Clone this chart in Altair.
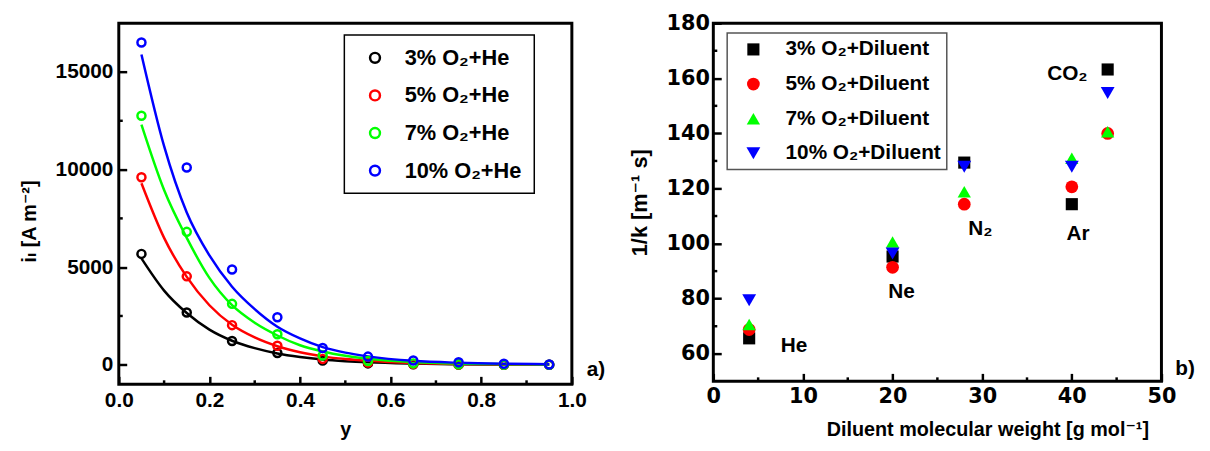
import altair as alt
import pandas as pd

# ---------------- data: panel a) ----------------
y_frac = [0.05, 0.15, 0.25, 0.35, 0.45, 0.55, 0.65, 0.75, 0.85, 0.95]
il_3 = [5680, 2680, 1220, 600, 216, 70, 25, 8, 3, 1]
il_5 = [9610, 4530, 2030, 970, 300, 110, 40, 12, 4, 1]
il_7 = [12760, 6810, 3120, 1560, 470, 190, 70, 20, 6, 2]
il_10 = [16510, 10110, 4880, 2430, 855, 418, 216, 131, 50, 10]
series_a = ["3% O₂+He", "5% O₂+He", "7% O₂+He", "10% O₂+He"]

# fitted curves
fit_x = [0.05, 0.10, 0.15, 0.20, 0.25, 0.30, 0.35, 0.40, 0.45, 0.50, 0.55, 0.65, 0.75, 0.85, 0.95]
fit_3 = [5450, 3800, 2650, 1800, 1230, 850, 580, 400, 270, 185, 125, 60, 25, 12, 5]
fit_5 = [9300, 6500, 4500, 3050, 2050, 1400, 950, 640, 430, 290, 200, 90, 40, 20, 10]
fit_7 = [12300, 8950, 6500, 4450, 3050, 2150, 1500, 1000, 680, 460, 310, 140, 60, 30, 15]
fit_10 = [15900, 11200, 7800, 5600, 4000, 2850, 1950, 1350, 900, 620, 430, 200, 100, 50, 30]

# ---------------- data: panel b) ----------------
mol_weight = [4, 20, 28, 40, 44]
inv_k_3 = [65.6, 95.3, 129.4, 114.3, 163.2]
inv_k_5 = [68.8, 91.4, 114.3, 120.6, 140.0]
inv_k_7 = [70.6, 100.6, 118.8, 131.0, 140.6]
inv_k_10 = [79.4, 96.4, 127.9, 127.9, 154.7]
series_b = ["3% O₂+Diluent", "5% O₂+Diluent", "7% O₂+Diluent", "10% O₂+Diluent"]
gases = ["He", "Ne", "N₂", "Ar", "CO₂"]
gas_label_x = [9.0, 21.0, 29.8, 40.7, 39.5]
gas_label_y = [62.9, 82.3, 105.3, 103.5, 161.7]

# ticks
major_x_a = [0.0, 0.2, 0.4, 0.6, 0.8, 1.0]
minor_x_a = [0.1, 0.3, 0.5, 0.7, 0.9]
major_y_a = [0, 5000, 10000, 15000]
minor_y_a = [2500, 7500, 12500]
major_x_b = [0, 10, 20, 30, 40, 50]
minor_x_b = [5, 15, 25, 35, 45]
major_y_b = [60, 80, 100, 120, 140, 160, 180]
minor_y_b = [70, 90, 110, 130, 150, 170]

colors = ["#000000", "#ff0000", "#00ff00", "#0000ff"]
FONT = "Liberation Sans, Arial, DejaVu Sans"
WIDE = "DejaVu Sans, Liberation Sans"

WA, HA = 458, 365
WB, HB = 453, 362

rows = []
for s, vals in zip(series_a, [il_3, il_5, il_7, il_10]):
    for x, v in zip(y_frac, vals):
        rows.append({"series": s, "xa": x, "ya": v})
df_a = pd.DataFrame(rows)

rows = []
for s, vals in zip(series_a, [fit_3, fit_5, fit_7, fit_10]):
    for x, v in zip(fit_x, vals):
        rows.append({"series": s, "xa": x, "ya": v})
df_fit = pd.DataFrame(rows)

rows = []
for s, vals in zip(series_b, [inv_k_3, inv_k_5, inv_k_7, inv_k_10]):
    for x, v in zip(mol_weight, vals):
        rows.append({"series2": s, "xb": x, "yb": v})
df_b = pd.DataFrame(rows)

df_lab = pd.DataFrame({"gas": gases, "xb": gas_label_x, "yb": gas_label_y})


def axis(values, fmt, title, lfont=FONT, lsize=21, tsize=20, **kw):
    return alt.Axis(values=values, format=fmt, title=title, domain=False, grid=False,
                    ticks=True, tickSize=8, tickWidth=2.5, tickColor="black", offset=-8,
                    labelFont=lfont, labelFontSize=lsize, labelFontWeight="bold",
                    labelColor="black", titleFont=FONT, titleFontSize=tsize,
                    titleFontWeight="bold", titleColor="black", labelFlush=False,
                    labelOverlap=False, **kw)


xs_a = alt.Scale(domain=[0, 1], nice=False, zero=False)
ys_a = alt.Scale(domain=[-1000, 17500], nice=False, zero=False)
cs_a = alt.Scale(domain=series_a, range=colors)
ax_xa = axis(major_x_a, ".1f", "y", titlePadding=10, labelPadding=5)
ax_ya = axis(major_y_a, "d", "iₗ [A m⁻²]", titlePadding=16, titleY=200, labelPadding=6)
leg_a = alt.Legend(
    title=None, orient="none", legendX=228, legendY=12, strokeColor="black",
    padding=12, symbolOffset=8, rowPadding=16, symbolSize=100, symbolStrokeWidth=2.5,
    symbolType="circle", labelFont=FONT, labelFontSize=22, labelFontWeight="bold",
    labelColor="black", labelOffset=19, labelLimit=400)

lines = alt.Chart(df_fit).mark_line(strokeWidth=2.5, interpolate="monotone").encode(
    x=alt.X("xa:Q", scale=xs_a, axis=ax_xa),
    y=alt.Y("ya:Q", scale=ys_a, axis=ax_ya),
    color=alt.Color("series:N", scale=cs_a, legend=leg_a),
    order=alt.Order("xa:Q"),
)
pts = alt.Chart(df_a).mark_point(filled=False, size=66, strokeWidth=2.5, opacity=1).encode(
    x=alt.X("xa:Q", scale=xs_a, axis=ax_xa),
    y=alt.Y("ya:Q", scale=ys_a, axis=ax_ya),
    color=alt.Color("series:N", scale=cs_a, legend=leg_a),
)
mx_a = alt.Chart(pd.DataFrame({"xa": minor_x_a})).mark_rule(color="black", strokeWidth=2.5).encode(
    x=alt.X("xa:Q", scale=xs_a, axis=ax_xa), y=alt.value(HA), y2=alt.value(HA - 4))
my_a = alt.Chart(pd.DataFrame({"ya": minor_y_a})).mark_rule(color="black", strokeWidth=2.5).encode(
    y=alt.Y("ya:Q", scale=ys_a, axis=ax_ya), x=alt.value(0), x2=alt.value(4))
tag_a = alt.Chart(pd.DataFrame({"t": ["a)"]})).mark_text(
    font=FONT, fontSize=21, fontWeight="bold", color="black", align="left", baseline="middle"
).encode(text="t:N", x=alt.value(WA + 15), y=alt.value(HA - 14))

panel_a = alt.layer(lines, pts, mx_a, my_a, tag_a).properties(width=WA, height=HA)

xs_b = alt.Scale(domain=[0, 50], nice=False, zero=False)
ys_b = alt.Scale(domain=[50, 180], nice=False, zero=False)
ax_xb = axis(major_x_b, "d", "Diluent molecular weight [g mol⁻¹]", lfont=WIDE, lsize=21,
             titlePadding=14, titleX=277, labelPadding=4)
ax_yb = axis(major_y_b, "d", "1/k [m⁻¹ s]", lfont=WIDE, lsize=21, tsize=22,
             titlePadding=15, labelPadding=4)

pts_b = alt.Chart(df_b).mark_point(filled=True, opacity=1, strokeWidth=0).encode(
    x=alt.X("xb:Q", scale=xs_b, axis=ax_xb),
    y=alt.Y("yb:Q", scale=ys_b, axis=ax_yb),
    color=alt.Color("series2:N", scale=alt.Scale(domain=series_b, range=colors), legend=alt.Legend(
        title=None, orient="none", legendX=14, legendY=10, strokeColor="#555555",
        padding=6, symbolOffset=10, rowPadding=13, labelFont=FONT, labelFontSize=21,
        labelFontWeight="bold", labelColor="black", labelOffset=22, labelLimit=400)),
    shape=alt.Shape("series2:N", scale=alt.Scale(domain=series_b,
                    range=["square", "circle", "triangle-up", "triangle-down"])),
    size=alt.Size("series2:N", scale=alt.Scale(domain=series_b, range=[150, 196, 289, 260])),
)
lab_b = alt.Chart(df_lab).mark_text(
    font=FONT, fontSize=21, fontWeight="bold", color="black", align="center", baseline="middle"
).encode(x=alt.X("xb:Q", scale=xs_b, axis=ax_xb), y=alt.Y("yb:Q", scale=ys_b, axis=ax_yb),
         text="gas:N")
mx_b = alt.Chart(pd.DataFrame({"xb": minor_x_b})).mark_rule(color="black", strokeWidth=2.5).encode(
    x=alt.X("xb:Q", scale=xs_b, axis=ax_xb), y=alt.value(HB), y2=alt.value(HB - 4))
my_b = alt.Chart(pd.DataFrame({"yb": minor_y_b})).mark_rule(color="black", strokeWidth=2.5).encode(
    y=alt.Y("yb:Q", scale=ys_b, axis=ax_yb), x=alt.value(0), x2=alt.value(4))
tag_b = alt.Chart(pd.DataFrame({"t": ["b)"]})).mark_text(
    font=FONT, fontSize=21, fontWeight="bold", color="black", align="left", baseline="middle"
).encode(text="t:N", x=alt.value(WB + 14), y=alt.value(HB - 12))

panel_b = alt.layer(pts_b, lab_b, mx_b, my_b, tag_b).properties(width=WB, height=HB)

chart = alt.hconcat(panel_a, panel_b, spacing=19).resolve_scale(
    color="independent", shape="independent", size="independent"
).configure_view(stroke="black", strokeWidth=3).configure_legend(strokeWidth=1.5).properties(
    padding={"left": 10, "top": 0, "right": 5, "bottom": 0}, background="white")

chart.save("out.html", embed_options={"renderer": "svg", "actions": False})
